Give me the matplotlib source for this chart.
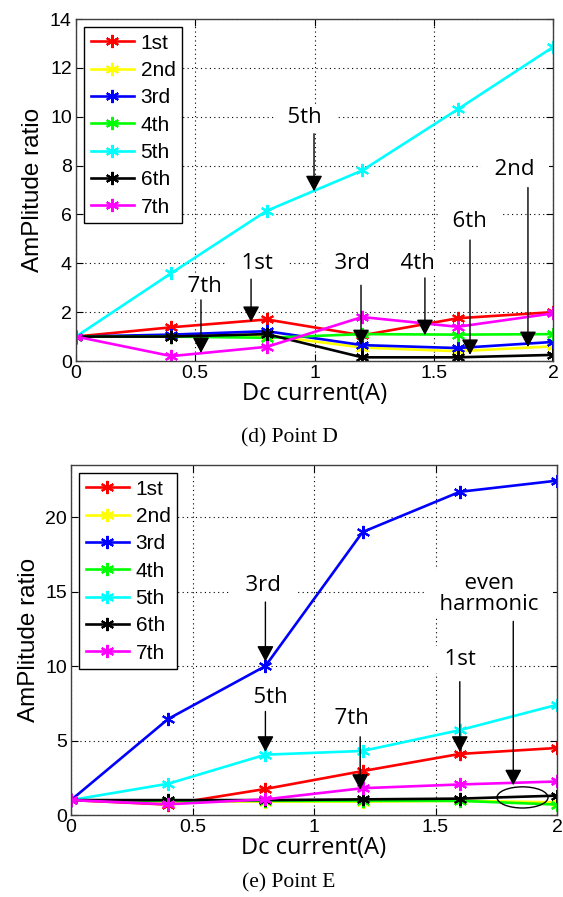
import matplotlib
matplotlib.use("Agg")
import matplotlib.pyplot as plt
from matplotlib.patches import Ellipse

# ---------------- data ----------------
current = [0, 0.4, 0.8, 1.2, 1.6, 2.0]
labels = ["1st", "2nd", "3rd", "4th", "5th", "6th", "7th"]
colors = ["#ff0000", "#ffff00", "#0000ff", "#00ff00", "#00ffff", "#000000", "#ff00ff"]

# Point D
d_1st = [1, 1.38, 1.70, 1.05, 1.75, 2.00]
d_2nd = [1, 1.00, 1.05, 0.55, 0.40, 0.60]
d_3rd = [1, 1.08, 1.22, 0.65, 0.53, 0.78]
d_4th = [1, 1.00, 0.95, 1.10, 1.08, 1.10]
d_5th = [1, 3.60, 6.15, 7.80, 10.30, 12.85]
d_6th = [1, 1.00, 1.10, 0.15, 0.15, 0.25]
d_7th = [1, 0.20, 0.58, 1.80, 1.40, 1.95]
point_d = [d_1st, d_2nd, d_3rd, d_4th, d_5th, d_6th, d_7th]

# Point E
e_1st = [1, 0.70, 1.75, 2.95, 4.10, 4.50]
e_2nd = [1, 0.90, 0.90, 0.90, 0.95, 0.85]
e_3rd = [1, 6.45, 10.00, 19.00, 21.70, 22.45]
e_4th = [1, 0.95, 0.95, 0.95, 0.95, 0.70]
e_5th = [1, 2.10, 4.05, 4.30, 5.70, 7.40]
e_6th = [1, 1.00, 1.00, 1.05, 1.10, 1.30]
e_7th = [1, 0.72, 1.05, 1.80, 2.05, 2.25]
point_e = [e_1st, e_2nd, e_3rd, e_4th, e_5th, e_6th, e_7th]

# annotations: (text, text_x, text_y, arrow_x, arrow_y_start, arrow_y_tip)
ann_d = [
    ("5th", 0.96, 9.95, 0.998, 9.3, 6.95),
    ("1st", 0.76, 4.0, 0.734, 3.35, 1.6),
    ("7th", 0.54, 3.07, 0.524, 2.5, 0.33),
    ("3rd", 1.16, 4.0, 1.195, 3.1, 0.65),
    ("4th", 1.434, 4.0, 1.463, 3.4, 1.06),
    ("6th", 1.652, 5.7, 1.652, 4.95, 0.25),
    ("2nd", 1.84, 7.85, 1.895, 7.1, 0.57),
]
ann_e = [
    ("3rd", 0.79, 15.4, 0.80, 14.3, 10.3),
    ("5th", 0.82, 7.9, 0.80, 6.95, 4.25),
    ("7th", 1.156, 6.5, 1.19, 5.25, 1.7),
    ("1st", 1.60, 10.45, 1.60, 8.95, 4.25),
    ("even\nharmonic", 1.72, 14.85, 1.82, 13.0, 2.0),
]

ANN_FONT = ["Open Sans", "DejaVu Sans"]
TICK_FONT = ["Liberation Sans", "DejaVu Sans"]

fig = plt.figure(figsize=(5.63, 8.97), dpi=100)
fig.patch.set_facecolor("white")

ax1 = fig.add_axes([76 / 563, 1 - 361 / 897, 477 / 563, 342 / 897])
ax2 = fig.add_axes([71 / 563, 1 - 815 / 897, 486 / 563, 350 / 897])

asterisk = (6, 2, 0)


def draw(ax, series, ylim, yticks, anns):
    for vals, lab, col in zip(series, labels, colors):
        ax.plot(current, vals, color=col, lw=1.9, marker=asterisk, ms=9.5,
                mew=1.5, mec=col, label=lab, zorder=2)
    ax.set_xlim(0, 2)
    ax.set_ylim(*ylim)
    ax.set_xticks([0, 0.5, 1, 1.5, 2])
    ax.set_xticklabels(["0", "0.5", "1", "1.5", "2"])
    ax.set_yticks(yticks)
    ax.set_yticklabels([str(t) for t in yticks])
    ax.grid(True, color="black", linestyle=(0, (1, 3)), lw=0.8)
    ax.set_axisbelow(True)
    ax.tick_params(direction="in", top=True, right=True, length=5, width=0.8,
                   labelsize=14, pad=3)
    for lb in ax.get_xticklabels() + ax.get_yticklabels():
        lb.set_family(TICK_FONT)
    for sp in ax.spines.values():
        sp.set_color("#404040")
        sp.set_linewidth(1.0)
    ax.set_xlabel("Dc current(A)", fontsize=17, family=ANN_FONT, labelpad=0)
    ax.set_ylabel("AmPlitude ratio", fontsize=17.5, family=TICK_FONT, labelpad=4)
    leg = ax.legend(loc="upper left", prop={"family": TICK_FONT, "size": 15},
                    frameon=True, fancybox=False, edgecolor="black", framealpha=1,
                    handlelength=2.1, handletextpad=0.3, labelspacing=0.4,
                    borderpad=0.3, borderaxespad=0.4)
    leg.get_frame().set_linewidth(1.0)
    leg.set_zorder(6)
    for txt, tx, ty, axx, ys, yt in anns:
        if "\n" in txt:
            shown = "\n".join("  " + t + "  " for t in txt.split("\n"))
        else:
            shown = "  " + txt + "  "
        ax.text(tx, ty, shown, ha="center", va="center", fontsize=16,
                family=ANN_FONT, zorder=4, linespacing=1.0,
                bbox=dict(facecolor="white", edgecolor="none", pad=2))
        ax.annotate("", xy=(axx, yt), xytext=(axx, ys),
                    arrowprops=dict(arrowstyle="-|>,head_length=0.6,head_width=0.32",
                                    mutation_scale=16, color="black", lw=1.0,
                                    shrinkA=0, shrinkB=0),
                    zorder=5)


draw(ax1, point_d, (0, 14), [0, 2, 4, 6, 8, 10, 12, 14], ann_d)
draw(ax2, point_e, (0, 23.5), [0, 5, 10, 15, 20], ann_e)

ax2.add_patch(Ellipse((1.858, 1.18), 0.21, 1.42, fill=False, edgecolor="black",
                      lw=1.0, zorder=5))

fig.text(289 / 563, 1 - 438 / 897, "(d) Point D", ha="center", va="center",
         fontsize=15.5, family=["Liberation Serif", "DejaVu Serif"])
fig.text(289 / 563, 1 - 883 / 897, "(e) Point E", ha="center", va="center",
         fontsize=15.5, family=["Liberation Serif", "DejaVu Serif"])

fig.savefig("out.png", dpi=100)
